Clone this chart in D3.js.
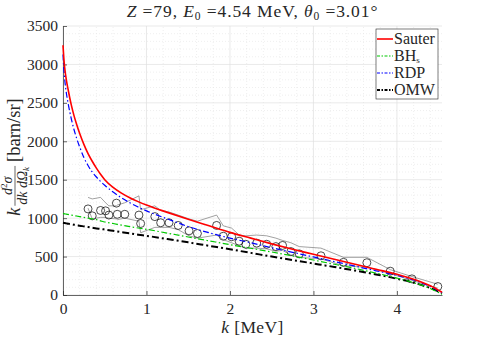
<!DOCTYPE html>
<html>
<head>
<meta charset="utf-8">
<script src="https://cdn.jsdelivr.net/npm/d3@7"></script>
<style>
  body { margin: 0; background: #fff; }
  svg text { font-family: "Liberation Serif", serif; fill: #262626; }
</style>
</head>
<body>
<svg id="chart"></svg>
<script>
const width = 488, height = 341;
const margin = { top: 26, right: 46, bottom: 46, left: 63 };

// theory curves, k in MeV
const kTheory = [0, 0.01, 0.02, 0.04, 0.06, 0.08, 0.1, 0.13, 0.16, 0.2, 0.25, 0.3, 0.35, 0.4, 0.45, 0.5, 0.6, 0.7, 0.8, 0.9, 1.0, 1.25, 1.5, 1.75, 2.0, 2.25, 2.5, 2.75, 3.0, 3.25, 3.5, 3.75, 4.0, 4.2, 4.4, 4.54];
const sauter  = [3250, 3080, 2960, 2800, 2680, 2570, 2470, 2340, 2230, 2100, 1960, 1840, 1740, 1650, 1570, 1500, 1400, 1325, 1265, 1215, 1170, 1075, 985, 900, 815, 740, 665, 595, 530, 465, 400, 335, 270, 205, 120, 35];
const rdp     = [3130, 2940, 2810, 2630, 2500, 2390, 2290, 2160, 2050, 1925, 1790, 1685, 1600, 1535, 1478, 1428, 1340, 1265, 1200, 1145, 1095, 990, 890, 810, 740, 680, 615, 555, 495, 435, 375, 315, 255, 195, 110, 30];
const bhs     = [1060, 1058, 1056, 1052, 1048, 1044, 1040, 1034, 1028, 1020, 1010, 1000, 990, 980, 965, 950, 930, 910, 890, 872, 855, 805, 755, 705, 655, 608, 560, 508, 455, 400, 345, 285, 220, 160, 85, 8];
const omw     = [940, 938, 936, 932, 928, 925, 921, 915, 910, 902, 893, 884, 875, 866, 860, 852, 835, 818, 801, 785, 770, 728, 685, 640, 595, 548, 500, 455, 410, 365, 318, 268, 212, 160, 90, 25];

// measured points with upper / lower bounds
const kExp   = [0.30, 0.35, 0.45, 0.51, 0.55, 0.64, 0.65, 0.74, 0.91, 0.93, 1.10, 1.17, 1.27, 1.38, 1.51, 1.61, 1.84, 1.92, 2.02, 2.11, 2.19, 2.32, 2.44, 2.55, 2.63, 2.73, 2.83, 3.09, 3.36, 3.64, 3.92, 4.18, 4.49];
const sigExp = [1120, 1030, 1100, 1095, 1040, 1195, 1050, 1050, 1040, 930, 1020, 940, 940, 905, 835, 800, 905, 765, 758, 700, 660, 675, 660, 630, 645, 565, 535, 510, 425, 420, 310, 210, 110];
const sigHi  = [1270, 1250, 1270, 1200, 1160, 1160, 1170, 1200, 1290, 1110, 1160, 1100, 1080, 1040, 990, 960, 1040, 900, 870, 780, 770, 780, 770, 740, 710, 680, 630, 610, 490, 490, 330, 240, 140];
const sigLo  = [1130, 990, 1010, 1010, 1000, 990, 980, 1000, 960, 810, 880, 880, 880, 850, 770, 740, 780, 720, 680, 640, 610, 610, 600, 570, 580, 520, 490, 470, 380, 360, 280, 190, 90];

const xTicks = [0, 1, 2, 3, 4];
const yTicks = [0, 500, 1000, 1500, 2000, 2500, 3000, 3500];

const svg = d3.select("#chart").attr("width", width).attr("height", height);

const x = d3.scaleLinear().domain([0, 4.54]).range([margin.left, width - margin.right]);
const y = d3.scaleLinear().domain([0, 3500]).range([height - margin.bottom, margin.top]);

const x0 = margin.left, x1 = width - margin.right, y0 = height - margin.bottom, y1 = margin.top;

////////////////////////////////////
//             Grid               //
////////////////////////////////////

const minorX = d3.range(0, 4.54, 0.2).filter(v => Math.abs(v - Math.round(v)) > 1e-6);
const minorY = d3.range(0, 3501, 100).filter(v => v % 500 !== 0);

svg.append("g").selectAll("line").data(minorX).join("line")
  .attr("x1", d => x(d)).attr("x2", d => x(d)).attr("y1", y0).attr("y2", y1)
  .attr("stroke", "#e4e4e4").attr("stroke-width", 0.6).attr("stroke-dasharray", "1,2");
svg.append("g").selectAll("line").data(minorY).join("line")
  .attr("x1", x0).attr("x2", x1).attr("y1", d => y(d)).attr("y2", d => y(d))
  .attr("stroke", "#e4e4e4").attr("stroke-width", 0.6).attr("stroke-dasharray", "1,2");

svg.append("g").selectAll("line").data(xTicks).join("line")
  .attr("x1", d => x(d)).attr("x2", d => x(d)).attr("y1", y0).attr("y2", y1)
  .attr("stroke", "#e0e0e0").attr("stroke-width", 0.7);
svg.append("g").selectAll("line").data(yTicks).join("line")
  .attr("x1", x0).attr("x2", x1).attr("y1", d => y(d)).attr("y2", d => y(d))
  .attr("stroke", "#e0e0e0").attr("stroke-width", 0.7);

////////////////////////////////////
//            Axes                //
////////////////////////////////////

const xAxis = svg.append("g").attr("transform", `translate(0,${y0})`)
  .call(d3.axisBottom(x).tickValues(xTicks).tickFormat(d3.format("d")).tickSizeInner(-4).tickSizeOuter(0).tickPadding(8));
const yAxis = svg.append("g").attr("transform", `translate(${x0},0)`)
  .call(d3.axisLeft(y).tickValues(yTicks).tickFormat(d3.format("d")).tickSizeInner(-4).tickSizeOuter(0).tickPadding(5));

[xAxis, yAxis].forEach(a => {
  a.attr("font-family", null);
  a.select(".domain").attr("stroke", "#262626").attr("stroke-width", 0.7);
  a.selectAll(".tick line").attr("stroke", "#262626").attr("stroke-width", 0.7);
  a.selectAll(".tick text").attr("font-size", 15.5).attr("fill", "#262626")
    .style("font-family", "'Liberation Serif', serif");
});

////////////////////////////////////
//         Measured data          //
////////////////////////////////////

const expLine = d3.line().x(d => x(d[0])).y(d => y(d[1]));
[sigHi, sigLo].forEach(arr => {
  svg.append("path")
    .attr("d", expLine(kExp.map((k, i) => [k, arr[i]])))
    .attr("fill", "none").attr("stroke", "#7a7a7a").attr("stroke-width", 0.7);
});

svg.append("g").selectAll("circle").data(kExp.map((k, i) => [k, sigExp[i]])).join("circle")
  .attr("cx", d => x(d[0])).attr("cy", d => y(d[1])).attr("r", 4)
  .attr("fill", "none").attr("stroke", "#000").attr("stroke-width", 0.7);

////////////////////////////////////
//         Theory curves          //
////////////////////////////////////

const series = [
  { name: "Sauter", values: sauter, color: "#ff0000", width: 1.6, dash: null },
  { name: "BH", values: bhs, color: "#00c800", width: 1.2, dash: "6,2.5,1.5,2.5" },
  { name: "RDP", values: rdp, color: "#0000ff", width: 1.2, dash: "6,2.5,1.5,2.5" },
  { name: "OMW", values: omw, color: "#000000", width: 2, dash: "7,3,2,3" }
];

const curve = d3.line().x(d => x(d[0])).y(d => y(d[1])).curve(d3.curveMonotoneX);
// draw order: OMW, BH, RDP, Sauter on top
[series[3], series[1], series[2], series[0]].forEach(s => {
  svg.append("path")
    .attr("d", curve(kTheory.map((k, i) => [k, s.values[i]])))
    .attr("fill", "none").attr("stroke", s.color).attr("stroke-width", s.width)
    .attr("stroke-dasharray", s.dash);
});

////////////////////////////////////
//            Legend              //
////////////////////////////////////

const legend = svg.append("g").attr("transform", "translate(376,29)");
legend.append("rect").attr("width", 62).attr("height", 70)
  .attr("fill", "#fff").attr("stroke", "#262626").attr("stroke-width", 0.6);
series.forEach((s, i) => {
  const ly = 10 + i * 17;
  legend.append("line").attr("x1", 1).attr("x2", 17).attr("y1", ly).attr("y2", ly)
    .attr("stroke", s.color).attr("stroke-width", s.width).attr("stroke-dasharray", s.dash ? "3,1.5,1.5,1.5" : null);
  const t = legend.append("text").attr("x", 18).attr("y", ly + 5).attr("font-size", 16);
  if (s.name === "BH") {
    t.append("tspan").text("BH");
    t.append("tspan").attr("font-size", 9).attr("dy", 2).text("s");
  } else {
    t.text(s.name);
  }
});

////////////////////////////////////
//            Labels              //
////////////////////////////////////

// title
const title = svg.append("text").attr("x", (x0 + x1) / 2).attr("y", 17)
  .attr("text-anchor", "middle").attr("font-size", 17.5).attr("letter-spacing", 0.9);
title.append("tspan").attr("font-style", "italic").text("Z");
title.append("tspan").text(" =79, ");
title.append("tspan").attr("font-style", "italic").text("E");
title.append("tspan").attr("font-size", 11.5).attr("dy", 3).text("0");
title.append("tspan").attr("dy", -3).text(" =4.54 MeV, ");
title.append("tspan").attr("font-style", "italic").text("θ");
title.append("tspan").attr("font-size", 11.5).attr("dy", 3).text("0");
title.append("tspan").attr("dy", -3).text(" =3.01°");

// x label
const xl = svg.append("text").attr("x", (x0 + x1) / 2).attr("y", 333)
  .attr("text-anchor", "middle").attr("font-size", 17.5).attr("letter-spacing", 0.4);
xl.append("tspan").attr("font-style", "italic").text("k");
xl.append("tspan").text(" [MeV]");

// y label, laid out piece by piece then rotated
const yl = svg.append("g");
let cx = 0;
const kT = yl.append("text").attr("x", cx).attr("y", 0).attr("font-size", 18)
  .attr("font-style", "italic").text("k");
cx += kT.node().getComputedTextLength() + 2;
const num = yl.append("text").attr("y", -8).attr("font-size", 14).attr("font-style", "italic");
num.append("tspan").text("d");
num.append("tspan").attr("font-size", 9).attr("dy", -5).attr("font-style", "normal").text("2");
num.append("tspan").attr("dy", 5).text("σ");
const den = yl.append("text").attr("y", 7).attr("font-size", 14).attr("font-style", "italic");
den.append("tspan").text("dk dΩ");
den.append("tspan").attr("font-size", 9).attr("dy", 2).text("k");
const fw = Math.max(num.node().getComputedTextLength(), den.node().getComputedTextLength()) + 2;
num.attr("x", cx + (fw - num.node().getComputedTextLength()) / 2);
den.attr("x", cx + (fw - den.node().getComputedTextLength()) / 2);
yl.append("line").attr("x1", cx).attr("x2", cx + fw).attr("y1", -5).attr("y2", -5)
  .attr("stroke", "#262626").attr("stroke-width", 0.7);
cx += fw + 4;
const unit = yl.append("text").attr("x", cx).attr("y", 0).attr("font-size", 18.5).text("[barn/sr]");
cx += unit.node().getComputedTextLength();
yl.attr("transform", `translate(20,${157 + cx / 2}) rotate(-90)`);
</script>
</body>
</html>
